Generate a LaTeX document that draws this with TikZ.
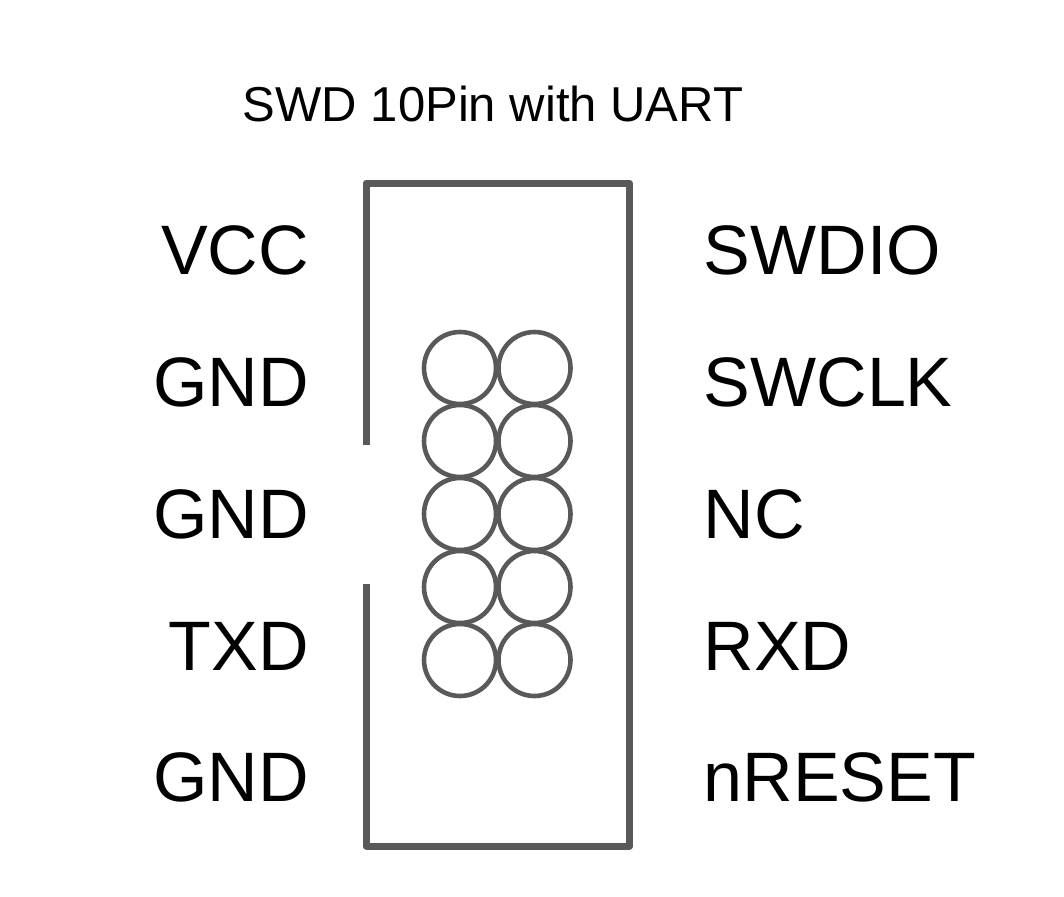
\documentclass[tikz,border=0pt]{standalone}
\usepackage{fontspec}
\setmainfont{Liberation Sans}
\begin{document}
\begin{tikzpicture}[x=1pt,y=-1pt,
  pin/.style={circle,draw=gray35,line width=4.6pt,minimum size=72pt,inner sep=0pt},
  lbl/.style={inner sep=0pt,font=\fontsize{70}{70}\selectfont},
  lleft/.style={lbl,anchor=base east},
  lright/.style={lbl,anchor=base west},
  wall/.style={draw=gray35,line width=7pt,line join=round}]
\definecolor{gray35}{HTML}{595959}
\useasboundingbox (0,0) rectangle (1064,896);
\node[inner sep=0pt,anchor=base,font=\fontsize{49}{49}\selectfont] (title) at (493,122) {SWD 10Pin with UART};
\coordinate (a) at (366,445);
\coordinate (b) at (366,183);
\coordinate (c) at (629.5,183);
\coordinate (d) at (629.5,846);
\coordinate (e) at (366,846);
\coordinate (f) at (366,584);
\draw[wall,line cap=butt] (a) -- (b) -- (c) -- (d) -- (e) -- (f);
\foreach \n/\y in {1/368,2/441,3/514,4/587,5/660}{
  \node[pin] (l\n) at (460,\y) {};
  \node[pin] (r\n) at (534.5,\y) {};
}
\node[lleft] (vcc) at (309,274) {VCC};
\node[lleft] (gnda) at (309,406) {GND};
\node[lleft] (gndb) at (309,538) {GND};
\node[lleft] (txd) at (309,670) {TXD};
\node[lleft] (gndc) at (309,801.5) {GND};
\node[lright] (swdio) at (703.5,274) {SWDIO};
\node[lright] (swclk) at (703.5,406) {SWCLK};
\node[lright] (nc) at (703.5,538) {NC};
\node[lright] (rxd) at (703.5,670) {RXD};
\node[lright] (nreset) at (703.5,801.5) {nRESET};
\end{tikzpicture}
\end{document}
